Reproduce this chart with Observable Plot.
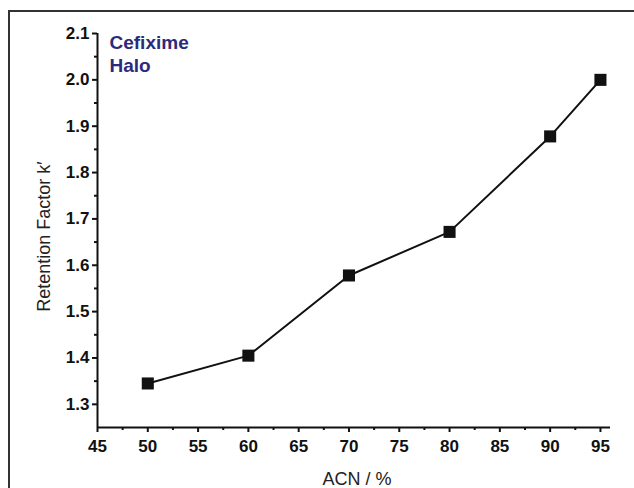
<!DOCTYPE html>
<html><head><meta charset="utf-8">
<script src="https://cdn.jsdelivr.net/npm/d3@7"></script>
<script src="https://cdn.jsdelivr.net/npm/@observablehq/plot@0.6"></script>
<style>
body{margin:0;background:#fff;width:634px;height:488px;overflow:hidden;position:relative;font-family:"Liberation Sans",Arial,sans-serif}
#frame{position:absolute;left:8px;top:10px;width:700px;height:600px;border:2px solid #333;box-sizing:border-box}
#chart{position:absolute;left:0;top:0}
</style></head><body><div id="frame"></div><div id="chart"></div>
<script>
const acn = [50, 60, 70, 80, 90, 95];
const retention = [1.345, 1.405, 1.578, 1.672, 1.878, 2.0];
const xMajor = [45, 50, 55, 60, 65, 70, 75, 80, 85, 90, 95];
const xMinor = [47.5, 52.5, 57.5, 62.5, 67.5, 72.5, 77.5, 82.5, 87.5, 92.5];
const yMajor = [1.3, 1.4, 1.5, 1.6, 1.7, 1.8, 1.9, 2.0, 2.1];
const yMinor = [1.35, 1.45, 1.55, 1.65, 1.75, 1.85, 1.95, 2.05];
const annotation = "Cefixime\nHalo";
const xTitle = "ACN / %";
const yTitle = "Retention Factor k\u2032";

const data = acn.map((x, i) => ({x, y: retention[i]}));
const font = "'Liberation Sans', Arial, sans-serif";

const chart = Plot.plot({
  width: 634, height: 488,
  marginLeft: 97, marginRight: 24, marginTop: 33, marginBottom: 61,
  x: {domain: [45, 96]},
  y: {domain: [1.25, 2.1]},
  style: {fontFamily: font, fontSize: "17px", background: "transparent", color: "#111"},
  marks: [
    Plot.axisX(xMajor, {tickSize: 5, strokeWidth: 2, tickPadding: 7, fontSize: 17, fontWeight: "bold", label: null, tickFormat: d => String(d)}),
    Plot.axisX(xMinor, {tickSize: 3, strokeWidth: 2, text: null, label: null}),
    Plot.axisY(yMajor, {tickSize: 5, strokeWidth: 2, tickPadding: 3, fontSize: 17, fontWeight: "bold", label: null, tickFormat: d3.format(".1f")}),
    Plot.axisY(yMinor, {tickSize: 3, strokeWidth: 2, text: null, label: null}),
    Plot.ruleX([45], {stroke: "#111", strokeWidth: 2}),
    Plot.ruleY([1.25], {stroke: "#111", strokeWidth: 2}),
    Plot.line(data, {x: "x", y: "y", stroke: "#111", strokeWidth: 2}),
    Plot.dot(data, {x: "x", y: "y", symbol: "square", r: 6.8, fill: "#111", stroke: null}),
    Plot.text([annotation], {frameAnchor: "top-left", dx: 12, dy: 0, lineAnchor: "top", textAnchor: "start", lineHeight: 1.17, fontSize: 19, fontWeight: "bold", fill: "#2d2a7e"}),
    Plot.text([yTitle], {frameAnchor: "left", dx: -60, dy: 6, rotate: -90, lineAnchor: "top", textAnchor: "middle", fontSize: 18, fill: "#222"}),
    Plot.text([xTitle], {frameAnchor: "bottom", dx: 3, dy: 57, lineAnchor: "bottom", textAnchor: "middle", fontSize: 18, fill: "#222"})
  ]
});
document.getElementById("chart").appendChild(chart);
</script>
</body></html>
